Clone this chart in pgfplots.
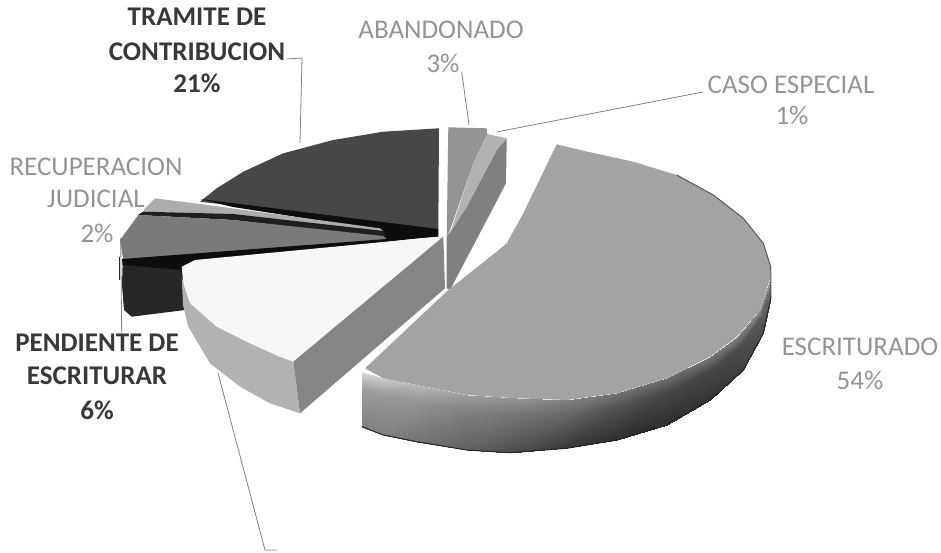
\documentclass[border=0pt]{standalone}
\usepackage{pgfplots}
\pgfplotsset{compat=1.18}
\usepackage{fontspec}
\setmainfont{Carlito}
\newcommand{\poly}[2]{\addplot[fill=#1,draw=none,forget plot] coordinates {#2} --cycle;}
\newcommand{\lead}[1]{\addplot[draw=black!50,line width=0.8pt,forget plot] coordinates {#1};}
\newcommand{\edge}[2]{\addplot[draw=#1,line width=1pt,forget plot] coordinates {#2};}
\newcommand{\lab}[4]{\node[font=\fontsize{27}{27}\selectfont#1, text=#2] at (axis cs:#3) {#4};}
\begin{document}
\begin{tikzpicture}
\useasboundingbox (0,0) rectangle (941pt,553pt);
\begin{axis}[
  at={(0,0)}, anchor=south west,
  scale only axis, width=941pt, height=553pt,
  xmin=0, xmax=941, ymin=0, ymax=553, y dir=reverse,
  axis lines=none, clip=false,
  colormap={g}{gray(0cm)=(0); gray(1cm)=(1)},
  point meta min=0, point meta max=1,
]
% TRAMITE DE CONTRIBUCION 21%
\poly{black!72}{(439,128.3)(383.3,131.7)(333.3,140)(283.3,153.3)(243.3,171.7)(216.7,188.3)(200,201.7)(438.3,230)}
\poly{black!95}{(200,199)(438.3,229)(438.3,237)(386.7,240)(380,230)(233,207)}
% RECUPERACION JUDICIAL 2%
\poly{black!32}{(145,208.3)(155,198.3)(200,204)(380,228.3)(384,232)(233,215)(143,211.7)}
\poly{black!88}{(138,215)(143,211.7)(233,214)(384,231)(386,238)(233,220)}
% PENDIENTE DE ESCRITURAR 6%
\poly{black!85}{(122.7,261.7)(122,285)(124,310)(131.7,316.7)(185,310)(183,263)}
\poly{black!52}{(120,240)(138.3,215)(233.3,220)(383.3,236)(386.7,240)(123.3,260)}
\poly{black!95}{(122,259)(386.7,239)(438.3,236)(300,252)(183,266)(183,270)(122.7,265)}
\edge{black!85}{(119,257)(119,280)}
% white slice
\poly{black!30}{(300,413.3)(293.3,361.7)(280,356.7)(250,343.3)(216.7,326.7)(190,303)(183.3,283)(181.7,276.7)(183,305)(188.3,326.7)(210,363.3)(240,386.7)(270,403.3)}
\poly{black!3}{(181.7,266.7)(195,260)(300,250)(438.3,236.7)(443.3,236.7)(293.3,361.7)(280,356.7)(250,343.3)(216.7,326.7)(190,303)(183.3,283)}
\poly{black!48}{(443.3,236.7)(445,288.3)(300,413.3)(293.3,361.7)}
% ABANDONADO / CASO ESPECIAL
\poly{black!50}{(506.7,138.3)(506,183.3)(450,290)(446.7,288.3)(446.7,236.7)(466.7,206.7)(496.7,150)}
\poly{black!42}{(448.3,127.3)(486.7,128.3)(487.3,134)(473.3,163.3)(450,230)(446.7,236.7)}
\poly{black!30}{(487.3,134)(506.7,138.3)(496.7,150)(466.7,206.7)(450,233.3)(473.3,163.3)}
% ESCRITURADO 54%
\addplot[surf, shader=interp, mesh/rows=3, mesh/cols=12, point meta=explicit, forget plot]
  table[meta=m] {
x y m
361.7 372 .85
383.3 378.3 .8
416.7 385 .72
466.7 395 .62
516.7 398.3 .58
566.7 400 .5
616.7 393.3 .45
666.7 378.3 .42
710 356.7 .45
736.7 336.7 .5
760 310 .55
770.7 276.7 .6
361.7 388.4 .62
383.3 395.3 .6
416.7 402 .58
466.7 411.5 .5
515 414.6 .46
566.7 414.5 .4
616.7 407.3 .32
666.7 392.3 .28
710 369.7 .28
738.7 346.7 .3
761 317 .35
770.7 282.7 .45
361.7 426.7 .5
383.3 435 .5
416.7 441.7 .45
466.7 450 .38
510 452.7 .3
566.7 448.3 .22
616.7 440 .18
666.7 425 .18
710 400 .2
743.3 370 .25
763.3 333.3 .3
770.7 296.7 .4
};
\poly{black!36}{(556.7,144.3)(583.3,150.7)(633.3,161.7)(676.7,175)(713.3,195)(743.3,218.3)(763.3,243.3)(770.7,266.7)(770.7,276.7)(760,310)(736.7,336.7)(710,356.7)(666.7,378.3)(616.7,393.3)(566.7,400)(516.7,398.3)(466.7,395)(416.7,385)(383.3,378.3)(365,368.3)(448.3,290)(496.7,251.7)(506.7,243.3)(523.3,213.3)}
\edge{black!65}{(676.7,175)(713.3,195)(743.3,218.3)(763.3,243.3)(770.7,266.7)(771,296.7)}
\edge{black!85}{(361.7,426.7)(383.3,435)(416.7,441.7)(466.7,450)(510,452.7)(566.7,448.3)(616.7,440)(666.7,425)(710,400)(743.3,370)(763.3,333.3)(771,296.7)}
% leaders
\lead{(287,59)(302,58)(300,143)}
\lead{(461.7,71.7)(469,125)}
\lead{(703,92)(498,131.7)}
\lead{(120.7,238)(121.7,333)}
\lead{(218,373)(265,550)(277,550)}
% labels
\lab{\bfseries}{black!78}{197,17}{TRAMITE DE}
\lab{\bfseries}{black!78}{197,52}{CONTRIBUCION}
\lab{\bfseries}{black!78}{197,83}{21\%}
\lab{}{black!42}{441,30}{ABANDONADO}
\lab{}{black!42}{443,63}{3\%}
\lab{}{black!42}{791,85}{CASO ESPECIAL}
\lab{}{black!42}{792,115}{1\%}
\lab{}{black!42}{96,167}{RECUPERACION}
\lab{}{black!42}{96,199}{JUDICIAL}
\lab{}{black!42}{97,233}{2\%}
\lab{\bfseries}{black!78}{97,343}{PENDIENTE DE}
\lab{\bfseries}{black!78}{97,376}{ESCRITURAR}
\lab{\bfseries}{black!78}{97,410}{6\%}
\lab{}{black!42}{860,347}{ESCRITURADO}
\lab{}{black!42}{860,380}{54\%}
\end{axis}
\end{tikzpicture}
\end{document}
